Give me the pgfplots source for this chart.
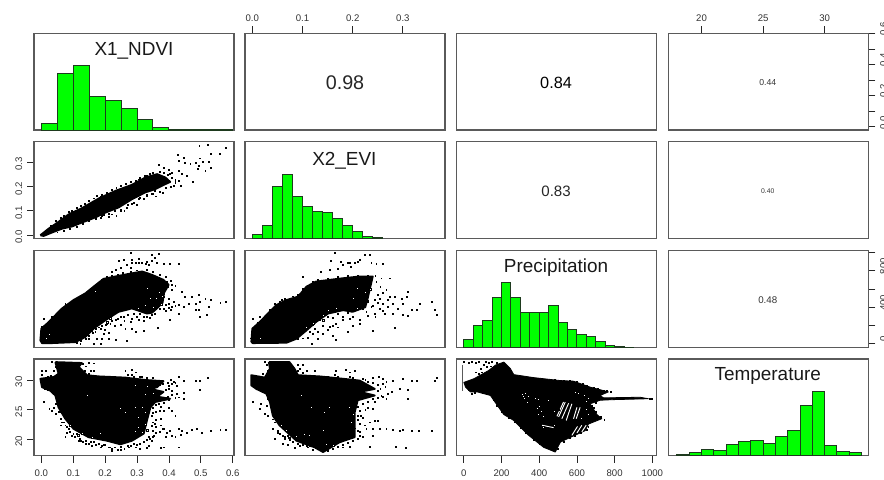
\documentclass[border=0pt]{standalone}
\usepackage{pgfplots}
\usepackage{fontspec}
\setmainfont{Liberation Sans}
\pgfplotsset{compat=1.18}
\definecolor{frm}{HTML}{5A5A5A}
\definecolor{hgreen}{HTML}{00FF00}
\definecolor{hedge}{HTML}{1E3A1E}
\definecolor{tlab}{HTML}{333333}
\newcommand{\lab}{\fontsize{14.2}{16}\selectfont}
\pgfplotsset{
 panel/.style={scale only axis,width=150pt,height=72.6pt,anchor=north west,
  xtick=\empty,ytick=\empty,
  axis line style={color=frm,line width=1pt},
  tick style={color=black!85,line width=0.6pt},
  major tick length=5.25pt,tick align=outside,
  /pgf/number format/assume math mode=true,
  tick label style={font=\fontsize{7.2}{8}\selectfont,color=tlab}},
 c1/.style={xmin=-0.023,xmax=0.604},
 c2/.style={xmin=-0.0146,xmax=0.384},
 c3/.style={xmin=-38,xmax=1023},
 c4/.style={xmin=17.3,xmax=33.55},
 r1/.style={ymin=-0.021,ymax=0.6},
 r2/.style={ymin=-0.0136,ymax=0.384},
 r3/.style={ymin=-41,ymax=1020},
 r4/.style={ymin=17.27,ymax=33.52},
 hist/.style={ybar interval,fill=hgreen,draw=hedge,line width=0.75pt},
 blob/.style={fill=black,draw=black,line width=1.4pt,line join=round},
 thinblob/.style={fill=black,draw=black,line width=0.6pt,line join=round},
 dots/.style={only marks,mark=square*,mark size=0.34pt,mark options={fill=black,draw=none}},
 wdots/.style={only marks,mark=square*,mark size=0.7pt,mark options={fill=white,draw=none}},
 wline/.style={white,line width=0.7pt},
 topx/.style={xtick pos=upper,xticklabel pos=upper},
 botx/.style={xtick pos=lower,xticklabel pos=lower,xticklabel style={yshift=-2pt}},
 lefty/.style={ytick pos=left,yticklabel pos=left,yticklabel style={rotate=90,anchor=south,xshift=-1.5pt}},
 righty/.style={ytick pos=right,yticklabel pos=right,yticklabel style={rotate=90,anchor=north,xshift=3.4pt}},
}
\begin{document}
\begin{tikzpicture}
\useasboundingbox (0,0) rectangle (663pt,-359.25pt);
% ---- Row 1
\begin{axis}[panel,c1,ymin=0,ymax=291,at={(25.5pt,-25pt)}]
\addplot[hist] coordinates {(0,19)(0.05,171)(0.1,193)(0.15,102)(0.2,88)(0.25,66)(0.3,33)(0.35,8)(0.4,2)(0.45,1)(0.5,1)(0.55,1)(0.6,0)};
\node[font=\lab,text=black!90] at (rel axis cs:0.5,0.815) {X1\_NDVI};
\end{axis}
\begin{axis}[panel,c2,r1,at={(183.75pt,-25pt)},topx,xtick={0,0.1,0.2,0.3},xticklabels={0.0,0.1,0.2,0.3}]
\node[font=\fontsize{14.8}{16}\selectfont,text=black!85] at (rel axis cs:0.5,0.49) {0.98};
\end{axis}
\begin{axis}[panel,c3,r1,at={(342.5pt,-25pt)}]
\node[font=\fontsize{12.2}{14}\selectfont,text=black] at (rel axis cs:0.497,0.49) {0.84};
\end{axis}
\begin{axis}[panel,c4,r1,at={(501.25pt,-25pt)},topx,xtick={20,25,30},xticklabels={20,25,30},righty,ytick={0,0.1,0.2,0.3,0.4,0.5,0.6},yticklabels={0.0,,0.2,,0.4,,0.6}]
\node[font=\fontsize{6.5}{8}\selectfont,text=tlab] at (rel axis cs:0.497,0.49) {0.44};
\end{axis}
% ---- Row 2
\begin{axis}[panel,c1,r2,at={(25.5pt,-106.3pt)},lefty,ytick={0,0.1,0.2,0.3},yticklabels={0.0,0.1,0.2,0.3}]
\addplot[blob] coordinates {(-.003,0)(.023,.027)(.054,.055)(.086,.086)(.127,.111)(.180,.151)(.232,.182)(.284,.207)(.326,.237)(.363,.251)(.389,.237)(.404,.219)(.389,.210)(.357,.189)(.326,.176)(.284,.148)(.242,.114)(.201,.093)(.169,.073)(.127,.052)(.096,.036)(.065,.027)(.033,.011)(.007,-.003)(-.003,0)};
\addplot[dots] coordinates {(.495,.368)(.521,.372)(.577,.358)(.427,.331)(.446,.320)(.559,.336)(.530,.333)(.498,.316)(.483,.299)(.506,.302)(.525,.302)(.431,.306)(.449,.296)(.467,.292)(.493,.285)(.530,.278)(.514,.265)(.490,.272)(.431,.265)(.441,.251)(.457,.244)(.475,.219)(.420,.230)(.431,.224)(.383,.278)(.368,.288)(.399,.269)(.410,.258)(.415,.203)(.436,.203)(.347,.169)(.331,.162)(.305,.148)(.284,.128)(.269,.114)(.248,.100)(.222,.086)(.185,.073)(.154,.066)(.331,.244)(.305,.230)(.216,.162)(.185,.159)(.096,.100)(.368,.203)(.357,.182)(.383,.217)(.404,.251)(.420,.217)
(.03,.04)(.045,.058)(.06,.072)(.07,.08)(.085,.095)(.095,.1)(.11,.112)(.125,.122)(.135,.13)(.15,.14)(.165,.152)(.175,.163)(.19,.168)(.205,.176)(.22,.188)(.235,.194)(.25,.203)(.265,.21)(.28,.22)(.295,.222)(.31,.235)(.325,.245)(.34,.252)(.35,.258)(.37,.262)(.385,.255)(.395,.248)(.41,.235)(.42,.225)
(.05,.012)(.07,.02)(.09,.028)(.11,.035)(.13,.048)(.15,.058)(.17,.068)(.19,.08)(.21,.09)(.23,.1)(.25,.105)(.27,.125)(.29,.135)(.31,.155)(.33,.165)(.35,.172)(.37,.18)(.39,.195)(.405,.2)(.38,.175)(.36,.16)(.32,.15)(.3,.125)(.26,.1)(.235,.08)(.21,.075)(.195,.085)};
\end{axis}
\begin{axis}[panel,c2,ymin=0,ymax=290,at={(183.75pt,-106.3pt)}]
\addplot[hist] coordinates {(0,13)(0.02,38)(0.04,157)(0.06,193)(0.08,126)(0.1,96)(0.12,82)(0.14,77)(0.16,61)(0.18,38)(0.2,22)(0.22,5)(0.24,2)(0.26,0)};
\node[font=\lab,text=black!90] at (rel axis cs:0.497,0.80) {X2\_EVI};
\end{axis}
\begin{axis}[panel,c3,r2,at={(342.5pt,-106.3pt)}]
\node[font=\fontsize{11.3}{13}\selectfont,text=black!85] at (rel axis cs:0.497,0.49) {0.83};
\end{axis}
\begin{axis}[panel,c4,r2,at={(501.25pt,-106.3pt)}]
\node[font=\fontsize{5.1}{6}\selectfont,text=tlab] at (rel axis cs:0.497,0.49) {0.40};
\end{axis}
% ---- Row 3
\begin{axis}[panel,c1,r3,at={(25.5pt,-188pt)}]
\addplot[blob] coordinates {(-.003,37)(0,166)(.018,221)(.039,295)(.065,387)(.101,479)(.138,552)(.164,626)(.195,711)(.232,737)(.269,762)(.316,792)(.347,755)(.383,700)(.399,645)(.385,560)(.38,450)(.36,380)(.347,340)(.331,331)(.284,387)(.242,350)(.201,258)(.164,166)(.138,74)(.107,18)(.033,7)(.002,7)(-.003,37)};
\addplot[dots] coordinates {(.279,994)(.347,976)(.368,983)(.357,939)(.242,910)(.258,921)(.284,921)(.305,932)(.331,902)(.347,910)(.284,884)(.295,884)(.305,884)(.316,884)(.326,877)(.336,866)(.363,884)(.383,877)(.404,877)(.431,877)(.269,866)(.279,829)(.248,829)(.232,810)(.222,792)(.206,737)(.185,608)(.175,589)(.159,571)(.133,541)(.107,479)(.075,442)(.033,295)(.007,276)(.023,221)(.002,184)(.363,718)(.373,645)(.394,681)(.389,608)(.373,571)(.383,516)(.399,497)(.410,589)(.363,497)(.373,424)(.389,424)(.383,387)(.399,394)(.415,460)(.431,424)(.446,405)(.441,571)(.451,516)(.472,516)(.493,534)(.462,442)(.483,442)(.498,460)(.514,497)(.530,479)(.525,405)(.483,368)(.493,368)(.519,313)(.498,295)(.431,331)(.404,258)(.561,449)(.577,460)(.347,313)(.357,331)(.321,295)(.305,258)(.284,276)(.258,295)(.232,258)(.216,221)(.201,203)(.185,166)(.169,129)(.159,147)(.284,166)(.321,147)(.295,129)(.263,166)(.366,177)(.195,110)(.190,55)(.211,55)(.148,55)(.164,0)(.185,0)(.232,48)(.269,37)(.122,0)(.143,110)(.175,55)
(.006,150)(.012,200)(.03,240)(.045,290)(.05,320)(.06,345)(.07,380)(.08,415)(.09,430)(.1,470)(.11,495)(.12,510)(.13,530)(.145,560)(.155,590)(.17,640)(.18,670)(.19,700)(.205,735)(.22,745)(.24,760)(.255,775)(.28,790)(.3,805)(.33,810)(.35,790)(.37,760)(.39,730)(.405,690)(.41,650)(.42,640)
(.40,440)(.41,410)(.42,420)(.39,360)(.405,370)(.37,380)(.38,650)(.395,620)
(.33,300)(.31,330)(.29,330)(.27,320)(.25,300)(.24,270)(.22,250)(.205,220)(.19,200)(.18,180)(.17,160)(.16,125)(.15,90)(.14,55)(.125,35)(.11,8)(.26,250)(.28,240)(.30,300)(.32,250)(.34,280)(.23,200)(.25,210)(.2,150)(.21,120)(-.002,60)(0,100)(-.002,130)(.005,60)};
\addplot[wdots] coordinates {(.169,571)(.180,552)(.274,387)(.284,405)(.216,276)(.206,239)(.269,460)(.331,608)(.342,497)(.326,424)(.305,387)(.36,500)(.37,560)(.375,430)(.35,400)(.38,520)(.365,620)(.345,350)(.025,100)(.015,60)};
\end{axis}
\begin{axis}[panel,c2,r3,at={(183.75pt,-188pt)}]
\addplot[blob] coordinates {(-.002,18)(0,166)(.015,239)(.031,331)(.048,424)(.068,479)(.091,516)(.108,626)(.127,681)(.154,700)(.181,718)(.214,737)(.240,737)(.235,620)(.23,500)(.225,400)(.2,350)(.181,368)(.151,331)(.127,239)(.108,147)(.088,55)(.068,11)(.001,7)(-.002,18)};
\addplot[dots] coordinates {(.164,994)(.224,976)(.234,976)(.214,921)(.204,884)(.194,884)(.210,895)(.197,847)(.191,884)(.177,902)(.157,910)(.181,866)(.171,821)(.154,810)(.137,792)(.101,737)(.104,608)(.074,497)(.058,479)(.044,442)(.001,276)(.015,295)(.028,313)(.237,884)(.247,877)(.260,877)(.274,718)(.257,718)(.247,681)(.267,589)(.237,589)(.250,534)(.244,479)(.254,497)(.274,516)(.284,516)(.297,497)(.307,516)(.310,571)(.260,442)(.270,405)(.280,442)(.290,387)(.300,442)(.317,368)(.327,368)(.333,442)(.357,460)(.363,376)(.368,313)(.300,313)(.310,302)(.280,331)(.264,331)(.237,405)(.227,350)(.214,258)(.201,295)(.181,258)(.167,221)(.154,184)(.141,110)(.124,166)(.114,129)(.191,129)(.240,140)(.284,177)(.214,221)(.161,92)(.131,55)(.118,0)(.167,48)(.091,55)(.220,387)(.254,387)(.244,331)
(.004,190)(.01,230)(.02,270)(.03,330)(.035,370)(.045,410)(.055,460)(.065,490)(.08,520)(.09,540)(.1,600)(.11,640)(.12,680)(.13,700)(.15,715)(.17,730)(.19,740)(.21,750)(.23,745)(.245,745)
(.25,450)(.24,420)(.23,310)(.245,300)(.26,360)(.27,480)(.26,560)(.255,620)
(.19,340)(.17,330)(.15,300)(.135,260)(.12,210)(.11,180)(.1,120)(.09,80)(.08,40)(.16,280)(.18,300)(.195,270)(.14,200)(.16,200)(.13,130)(.12,110)(.15,150)(.17,180)(.2,200)(.1,60)(.11,70)(.075,30)(-.003,60)(-.002,110)(.003,80)};
\addplot[wdots] coordinates {(.151,368)(.167,387)(.141,313)(.181,405)(.201,497)(.210,608)(.121,221)(.141,258)(.108,184)(.225,560)(.22,450)(.21,390)(.23,470)(.235,600)(.015,60)};
\end{axis}
\begin{axis}[panel,c3,ymin=0,ymax=288,at={(342.5pt,-188pt)}]
\addplot[hist] coordinates {(0,25)(50,66)(100,80)(150,149)(200,194)(250,149)(300,105)(350,105)(400,105)(450,124)(500,74)(550,52)(600,38)(650,33)(700,19)(750,5)(800,2)(850,1)(900,0)};
\node[font=\lab,text=black!90] at (rel axis cs:0.497,0.82) {Precipitation};
\end{axis}
\begin{axis}[panel,c4,r3,at={(501.25pt,-188pt)},righty,ytick={0,200,400,600,800,1000},yticklabels={0,,400,,800,}]
\node[font=\fontsize{7.3}{8}\selectfont,text=tlab] at (rel axis cs:0.497,0.49) {0.48};
\end{axis}
% ---- Row 4
\begin{axis}[panel,c1,r4,at={(25.5pt,-269.25pt)},botx,xtick={0,0.1,0.2,0.3,0.4,0.5,0.6},xticklabels={0.0,0.1,0.2,0.3,0.4,0.5,0.6},lefty,ytick={20,25,30},yticklabels={20,25,30}]
\addplot[blob] coordinates {(.044,33.0)(.127,32.85)(.117,32.2)(.143,30.8)(.180,30.6)(.263,30.4)(.326,30.0)(.383,29.8)(.363,28.8)(.342,28.5)(.383,28.0)(.363,27.2)(.404,26.85)(.357,26.3)(.342,25.4)(.331,23.2)(.321,21.0)(.284,19.8)(.248,19.2)(.206,19.8)(.148,20.4)(.101,21.8)(.075,23.5)(.054,25.4)(.044,27.4)(.028,28.2)(.002,28.8)(-.003,30.2)(.039,30.5)(.054,31.05)(.044,33.0)};
\addplot[dots] coordinates {(.033,33.0)(.002,31.6)(.013,31.6)(.002,30.8)(.117,31.9)(.133,31.3)(.122,32.5)(.154,31.5)(.164,31.5)(.263,31.5)(.284,31.7)(.295,31.3)(.284,30.8)(.316,30.5)(.007,26.3)(.025,25.2)(.039,25.4)(.044,24.3)(.033,24.9)(.054,24.6)(.065,22.9)(.075,22.4)(.060,22.4)(.075,20.4)(.080,21.2)(.096,20.7)(.117,19.8)(.138,19.3)(.159,19.0)(.185,18.7)(.222,18.1)(.274,18.7)(.295,18.7)(.331,18.6)(.336,19.0)(.373,18.6)(.383,18.7)(.431,18.7)(.410,24.9)(.420,24.0)(.373,23.5)(.383,24.9)(.399,25.4)(.383,21.8)(.394,21.2)(.389,20.5)(.410,20.7)(.404,21.5)(.431,21.8)(.441,21.5)(.457,21.2)(.472,21.6)(.488,21.8)(.504,21.2)(.530,21.4)(.561,21.6)(.577,21.6)(.357,22.6)(.373,22.4)(.347,24.0)(.368,26.0)(.399,26.6)(.410,28.2)(.425,29.1)(.431,30.5)(.446,29.8)(.483,29.8)(.496,29.8)(.521,30.4)(.498,28.4)(.425,27.7)(.446,27.8)(.446,26.85)(.431,27.1)(.415,29.65)(.399,29.1)(.368,29.9)(.352,20.7)(.336,20.4)(.420,20.4)(.436,20.8)(.347,19.8)(.310,18.4)(.248,18.3)(.216,18.7)(.195,19.2)
(.06,23.5)(.07,22.9)(.08,22.2)(.085,21.8)(.09,21.3)(.1,20.9)(.105,20.4)(.11,20.9)(.12,20.2)(.125,19.8)(.13,19.6)(.14,19.8)(.15,19.3)(.155,19.6)(.165,19.6)(.17,19.1)(.18,19.3)(.19,18.9)(.2,19.2)(.21,18.7)(.22,18.4)(.23,18.7)(.24,18.3)(.25,18.8)(.26,18.5)(.27,19.0)(.28,18.9)(.29,19.3)(.3,19.1)(.31,19.3)(.32,19.6)(.33,19.9)(.34,20.2)(.35,20.5)(.36,21.2)(.37,21.3)(.38,21.8)(.35,21.4)(.36,22.2)(.345,22.3)(.35,22.9)(.36,23.3)(.35,24.5)(.36,24.7)(.37,24.9)(.35,25.4)(.375,25.5)(.36,25.9)(.385,26.2)(.395,27.2)(.41,27.5)(.42,27.0)(.39,28.4)(.4,28.6)(.37,29.2)(.38,29.4)(.395,29.6)(.41,29.4)(.42,29.6)(.405,30.0)(.35,30.3)(.33,30.4)(.31,30.5)(.29,30.6)(.27,30.8)(.02,28.4)(.035,28.0)(.045,28.0)(.05,26.5)(.045,26)(.055,25.8)(.06,24.6)(.07,24.0)(.03,29.0)(.01,28.6)(.02,30.6)(.03,30.7)(.04,31.6)(.045,32.2)(.05,32.6)(.14,32.3)(.13,32.7)(.15,32.9)(.165,32.8)(.135,31.6)(.15,31)};
\addplot[wdots] coordinates {(.180,25.4)(.190,26.0)(.143,27.4)(.263,24.6)(.248,25.2)(.295,25.4)(.316,25.4)(.326,24.6)(.305,23.8)(.326,22.6)(.284,21.8)(.295,21.4)(.305,22.1)(.185,21.1)(.159,20.4)(.169,20.3)(.127,21.0)(.107,21.8)(.091,22.4)(.117,20.7)(.331,21.5)(.316,21.2)(.295,29.1)(.331,28.9)(.326,27.6)(.352,27.7)};
\end{axis}
\begin{axis}[panel,c2,r4,at={(183.75pt,-269.25pt)}]
\addplot[blob] coordinates {(.033,33.0)(.074,33.0)(.084,31.9)(.091,30.8)(.134,30.6)(.181,30.2)(.214,29.9)(.244,28.5)(.214,28.0)(.244,27.4)(.210,26.6)(.204,24.6)(.204,20.4)(.174,19.55)(.141,17.9)(.124,18.7)(.088,19.8)(.054,22.4)(.041,24.0)(.035,26.3)(.028,27.7)(.008,28.5)(-.002,29.1)(-.002,30.8)(.025,30.4)(.035,31.9)(.033,33.0)};
\addplot[dots] coordinates {(.025,33.0)(.091,31.5)(.108,31.5)(.124,31.5)(.167,31.5)(.187,31.7)(.204,31.5)(.194,31.3)(.164,30.8)(.194,30.5)(.220,30.2)(.240,30.4)(.252,30.5)(.260,30.2)(.280,29.8)(.267,29.65)(.300,30.2)(.317,29.8)(.327,29.8)(.368,30.4)(.363,29.8)(.310,28.4)(.293,28.5)(.277,28.0)(.270,27.7)(.250,28.2)(.310,26.85)(.267,26.85)(.257,27.4)(.244,26.3)(.230,25.4)(.240,25.2)(.001,26.3)(.016,26.0)(.015,25.2)(.025,24.3)(.031,24.0)(.044,22.9)(.041,21.8)(.044,20.1)(.061,19.3)(.071,19.2)(.084,18.6)(.108,19.0)(.181,18.7)(.194,18.8)(.234,18.8)(.286,18.8)(.305,18.6)(.214,20.7)(.227,21.8)(.240,21.8)(.254,21.8)(.267,21.8)(.280,21.6)(.293,21.5)(.300,21.6)(.317,21.4)(.332,21.5)(.357,21.5)(.250,23.2)(.244,23.2)(.234,22.9)(.217,24.0)(.224,22.4)(.210,21.5)(.220,20.4)(.051,21.2)(.064,20.4)(.240,20.7)
(.04,23.4)(.045,22.9)(.05,21.5)(.055,21.0)(.06,20.6)(.065,20.2)(.07,20.6)(.075,19.9)(.08,19.6)(.09,19.3)(.095,19.0)(.1,19.2)(.11,18.7)(.115,18.9)(.12,18.3)(.13,18.5)(.14,18.3)(.15,18.1)(.16,18.5)(.17,18.8)(.18,19.1)(.19,19.4)(.2,19.8)(.21,20.2)(.215,21.3)(.205,21.9)(.215,22.6)(.21,23.3)(.22,23.6)(.21,24.0)(.215,24.8)(.225,25)(.21,25.5)(.22,26.0)(.23,26.3)(.24,26.8)(.25,27.0)(.26,27.2)(.255,28.6)(.265,28.9)(.25,29.2)(.24,29.5)(.26,29.4)(.23,29.7)(.225,30.0)(.2,30.3)(.17,30.5)(.15,30.6)(.01,28.9)(.02,28.2)(.03,28.4)(.035,27.6)(.03,26.9)(.04,26.8)(.028,25.7)(.045,25)(.04,24.6)(.045,32.6)(.028,32.5)(.03,31.5)(.02,31)(.09,32.6)(.095,31.9)(.1,32.5)(.1,31.2)};
\addplot[wdots] coordinates {(.111,26.0)(.118,25.4)(.098,27.4)(.154,25.4)(.144,24.6)(.194,25.4)(.201,24.3)(.197,22.9)(.187,21.8)(.154,21.8)(.141,21.5)(.104,20.9)(.088,20.6)(.068,21.5)(.058,22.4)(.074,20.3)(.114,20.7)(.147,19.2)(.161,19.0)};
\end{axis}
\begin{axis}[panel,c3,r4,at={(342.5pt,-269.25pt)},botx,xtick={0,200,400,600,800,1000},xticklabels={0,200,400,600,800,1000}]
\addplot[thinblob] coordinates {(0,29.6)(53,30.2)(132,31.6)(168,32.5)(212,33.0)(247,31.9)(265,30.9)(370,30.4)(512,29.9)(582,29.8)(670,28.8)(767,28.0)(723,27.4)(741,27.0)(935,27.1)(979,26.85)(794,26.7)(723,26.6)(670,26.0)(706,24.2)(732,23.5)(661,22.6)(644,21.5)(547,20.1)(512,19.55)(485,17.9)(423,18.7)(344,20.7)(265,23.2)(212,24.2)(185,25.4)(141,27.4)(71,28.0)(35,28.0)(9,28.8)(0,29.6)};
\addplot[color=frm,line width=0.6pt] coordinates {(-6,32.5)(-6,28.2)};
\addplot[dots] coordinates {(0,33.0)(26,32.9)(44,33)(62,32.9)(79,33)(115,33)(132,32.9)(150,33)(176,32.9)(88,31.9)(97,31.3)(115,31.05)(79,31.05)(124,32.2)(141,32.3)(62,31.3)(106,32.5)(998,26.85)(985,26.9)
(280,30.55)(320,30.4)(360,30.3)(400,30.2)(440,30.1)(480,30.1)(530,29.95)(560,29.9)(600,29.7)(630,29.3)(650,29.1)(690,28.7)(710,28.5)(740,28.2)(760,28.2)(780,27.95)
(745,23.3)(725,23.9)(700,24.6)(690,25.3)(680,25.7)(700,26.2)(660,22.2)(650,21.7)(620,21.2)(590,20.6)(560,20.3)(530,19.6)(500,18.5)(470,18.2)(440,18.6)(400,19.3)(370,20.0)(330,21.1)(300,22.0)(270,22.9)(240,23.6)(200,24.6)(175,25.7)(160,26.6)(120,27.6)(100,27.8)(60,27.9)(40,27.7)(25,28.3)};
\addplot[wline] coordinates {(538,26.3)(503,23.8)};
\addplot[wline] coordinates {(556,26.1)(520,23.5)};
\addplot[wline] coordinates {(573,26.0)(543,23.2)};
\addplot[wline] coordinates {(529,26.3)(494,23.9)};
\addplot[wline] coordinates {(600,25.4)(582,23.5)};
\addplot[wline] coordinates {(617,25.4)(596,23.5)};
\addplot[wline] coordinates {(573,20.7)(603,22.2)};
\addplot[wline] coordinates {(600,21.1)(626,22.4)};
\addplot[wline] coordinates {(626,21.3)(649,22.4)};
\addplot[wline] coordinates {(415,22.4)(476,22.0)};
\addplot[wdots] coordinates {(309,27.6)(325,27.8)(340,27.2)(320,26.9)(335,26.2)(350,26.9)(315,27.2)(380,27)(395,26.8)(385,26.0)(400,25.6)(390,25.2)(410,24.8)(395,24.3)(420,23.9)(425,25)(450,26.6)(470,26)(480,24.7)(500,25)(590,27.9)(605,27.7)(640,27.5)(660,26.9)(650,26.4)(650,25.1)(640,24.5)(660,24.2)(625,23.6)(420,22)(445,21.9)(465,21.8)(480,22.4)};
\end{axis}
\begin{axis}[panel,c4,ymin=0,ymax=288,at={(501.25pt,-269.25pt)}]
\addplot[hist] coordinates {(18,3)(19,11)(20,20)(21,16)(22,33)(23,44)(24,47)(25,36)(26,56)(27,75)(28,150)(29,191)(30,30)(31,14)(32,11)(33,0)};
\node[font=\lab,text=black!90] at (rel axis cs:0.497,0.82) {Temperature};
\end{axis}
\end{tikzpicture}
\end{document}
